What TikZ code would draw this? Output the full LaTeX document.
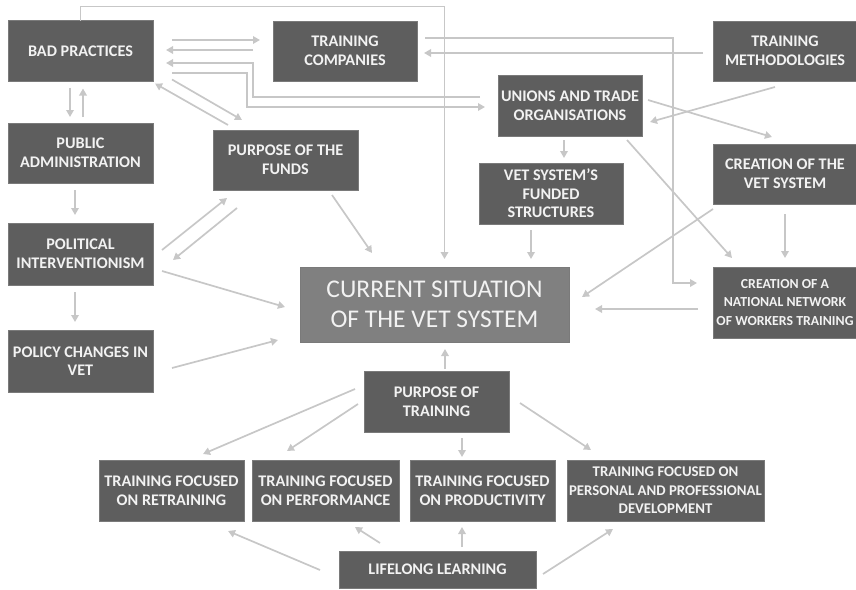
\documentclass[tikz,border=0pt]{standalone}
\usepackage{fontspec}
\setmainfont{Carlito}
\usetikzlibrary{arrows.meta}
\definecolor{VetBox}{gray}{0.37}
\definecolor{VetCore}{gray}{0.50}
\definecolor{VetEdge}{gray}{0.48}
\definecolor{VetText}{gray}{0.95}
\definecolor{VetLink}{gray}{0.78}
\tikzset{
    vet/diagram/.style={
        line cap=butt,
        line join=miter,
        every node/.style={inner sep=0pt, outer sep=0pt}
    },
    vet/box/.style={
        draw=VetEdge, fill=VetBox, text=VetText, line width=0.6pt,
        align=center, font=\bfseries\fontsize{16.2}{18.6}\selectfont,
        minimum width=145pt, minimum height=61pt
    },
    vet/wide/.style={vet/box, minimum width=197pt},
    vet/small/.style={font=\bfseries\fontsize{14.8}{18.6}\selectfont},
    vet/tiny/.style={font=\bfseries\fontsize{13.8}{18.6}\selectfont},
    vet/core/.style={
        vet/box, fill=VetCore, minimum width=269pt, minimum height=75pt,
        font=\mdseries\fontsize{25.5}{30}\selectfont
    },
    vet/wire/.style={draw=VetLink, line width=1.7pt},
    vet/link/.style={
        vet/wire,
        -{Triangle[length=7pt, width=7.5pt]}
    }
}

\begin{document}
\begin{tikzpicture}[vet/diagram, x=1pt, y=-1pt]
    \useasboundingbox (0,0) rectangle (856,589);
    % left column
    \node[vet/box] (bad) at (80.5,51) {BAD PRACTICES};
    \node[vet/box, minimum height=60pt] (pubadm) at (80.5,153) {PUBLIC\\ADMINISTRATION};
    \node[vet/box, minimum height=62pt] (polint) at (80.5,254) {POLITICAL\\INTERVENTIONISM};
    \node[vet/box, minimum height=62pt] (policy) at (80.5,361) {POLICY CHANGES IN\\VET};
    % top and right
    \node[vet/box, minimum width=144pt, minimum height=60pt] (tco) at (345,51) {TRAINING\\COMPANIES};
    \node[vet/box, minimum width=144pt, minimum height=60pt] (tmeth) at (785,51) {TRAINING\\METHODOLOGIES};
    \node[vet/box, minimum height=60pt] (pfunds) at (285.5,160) {PURPOSE OF THE\\FUNDS};
    \node[vet/box, minimum width=144pt] (unions) at (570,105.5) {UNIONS AND TRADE\\ORGANISATIONS};
    \node[vet/box, minimum width=144pt] (funded) at (551,193.5) {VET SYSTEM'S\\FUNDED\\STRUCTURES};
    \node[vet/box, minimum width=144pt, minimum height=60pt] (cvet) at (785,174) {CREATION OF THE\\VET SYSTEM};
    \node[vet/box, vet/tiny, minimum width=144pt, minimum height=71pt] (cnat) at (785,302.5)
        {CREATION OF A\\NATIONAL NETWORK\\OF WORKERS TRAINING};
    \node[vet/core] (current) at (434.5,304.5) {CURRENT SITUATION\\OF THE VET SYSTEM};
    % purpose of training and its focus
    \node[vet/box] (ptrain) at (436.5,401.5) {PURPOSE OF\\TRAINING};
    \node[vet/box] (retrain) at (171.5,490.5) {TRAINING FOCUSED\\ON RETRAINING};
    \node[vet/box, minimum width=147pt] (perf) at (325.5,490.5) {TRAINING FOCUSED\\ON PERFORMANCE};
    \node[vet/box] (prod) at (482.5,490.5) {TRAINING FOCUSED\\ON PRODUCTIVITY};
    \node[vet/wide, vet/small] (pers) at (665.5,490.5)
        {TRAINING FOCUSED ON\\PERSONAL AND PROFESSIONAL\\DEVELOPMENT};
    \node[vet/wide, minimum height=37pt] (life) at (437.5,569.5) {LIFELONG LEARNING};

    % long elbow connectors
    \draw[vet/link] (bad.north) -- ++(0,-14) -| ([shift={(10,-8)}]current.north);
    \draw[vet/link] ([shift={(8,-13)}]tco.east) -| ([shift={(-40,-19.5)}]cnat.west)
        -- ([shift={(-16,-19.5)}]cnat.west);
    \draw[vet/link] ([shift={(-18,-8.5)}]unions.west) -| ([shift={(100,12)}]bad.east)
        -- ([shift={(13,12)}]bad.east);
    \draw[vet/link] ([shift={(19,22)}]bad.east) -| ([shift={(-251,1.5)}]unions.west)
        -- ([shift={(-13,1.5)}]unions.west);

    % top row
    \draw[vet/link] ([shift={(19,-11)}]bad.east) -- ([shift={(-13,-11)}]tco.west);
    \draw[vet/link] ([shift={(-20,-1)}]tco.west) -- ([shift={(13,-1)}]bad.east);
    \draw[vet/link] ([shift={(-10,2)}]tmeth.west) -- ([shift={(7,2)}]tco.east);

    % left column
    \draw[vet/link] ([shift={(-10.5,6)}]bad.south) -- ([shift={(-10.5,-6)}]pubadm.north);
    \draw[vet/link] ([shift={(2.5,-6)}]pubadm.north) -- ([shift={(2.5,7)}]bad.south);
    \draw[vet/link] ([shift={(-5.5,7)}]pubadm.south) -- ([shift={(-5.5,-8)}]polint.north);
    \draw[vet/link] ([shift={(-5.5,7)}]polint.south) -- ([shift={(-5.5,-8)}]policy.north);
    \draw[vet/link] ([shift={(19,-2)}]bad.south east) -- ([shift={(29,-10)}]pfunds.north west);
    \draw[vet/link] ([shift={(15,-5)}]pfunds.north west) -- ([shift={(2,2)}]bad.south east);
    \draw[vet/link] ([shift={(9,-4)}]polint.east) -- ([shift={(14,8)}]pfunds.south west);
    \draw[vet/link] ([shift={(24,18)}]pfunds.south west) -- ([shift={(20,6)}]polint.east);
    \draw[vet/link] ([shift={(46.5,5)}]pfunds.south) -- ([shift={(72,-14)}]current.north west);
    \draw[vet/link] ([shift={(9,17)}]polint.east) -- ([shift={(-15,2.5)}]current.west);
    \draw[vet/link] ([shift={(19,7)}]policy.east) -- ([shift={(-22,35.5)}]current.west);

    % right side
    \draw[vet/link] ([shift={(-6,4)}]unions.south) -- ([shift={(13,-5)}]funded.north);
    \draw[vet/link] ([shift={(-20,6)}]funded.south) -- ([shift={(96.5,-8)}]current.north);
    \draw[vet/link] ([shift={(-10,6)}]tmeth.south) -- ([shift={(8,16.5)}]unions.east);
    \draw[vet/link] ([shift={(6,-5.5)}]unions.east) -- ([shift={(-13,-7)}]cvet.north);
    \draw[vet/link] ([shift={(-15,4)}]unions.south east) -- ([shift={(-53,-9)}]cnat.north);
    \draw[vet/link] ([shift={(0,5)}]cvet.south west) -- ([shift={(13,-7.5)}]current.east);
    \draw[vet/link] ([shift={(0,10)}]cvet.south) -- ([shift={(0,-9)}]cnat.north);
    \draw[vet/link] ([shift={(-15,6.5)}]cnat.west) -- ([shift={(26,4.5)}]current.east);

    % bottom part
    \draw[vet/link] ([shift={(8.5,-2)}]ptrain.north) -- ([shift={(10.5,7)}]current.south);
    \draw[vet/link] ([shift={(-9,-12.5)}]ptrain.west) -- ([shift={(31.5,-6)}]retrain.north);
    \draw[vet/link] ([shift={(-6,2.5)}]ptrain.west) -- ([shift={(-38.5,-9)}]perf.north);
    \draw[vet/link] ([shift={(25.5,6)}]ptrain.south) -- ([shift={(-20.5,-3)}]prod.north);
    \draw[vet/link] ([shift={(11,1.5)}]ptrain.east) -- ([shift={(24,-10)}]pers.north west);
    \draw[vet/link] ([shift={(-19,0.5)}]life.west) -- ([shift={(56.5,10)}]retrain.south);
    \draw[vet/link] ([shift={(41,-8)}]life.north west) -- ([shift={(29.5,6)}]perf.south);
    \draw[vet/link] ([shift={(24.5,-4)}]life.north) -- ([shift={(-20.5,6)}]prod.south);
    \draw[vet/link] ([shift={(7,4.5)}]life.east) -- ([shift={(46,8)}]pers.south west);
\end{tikzpicture}
\end{document}
